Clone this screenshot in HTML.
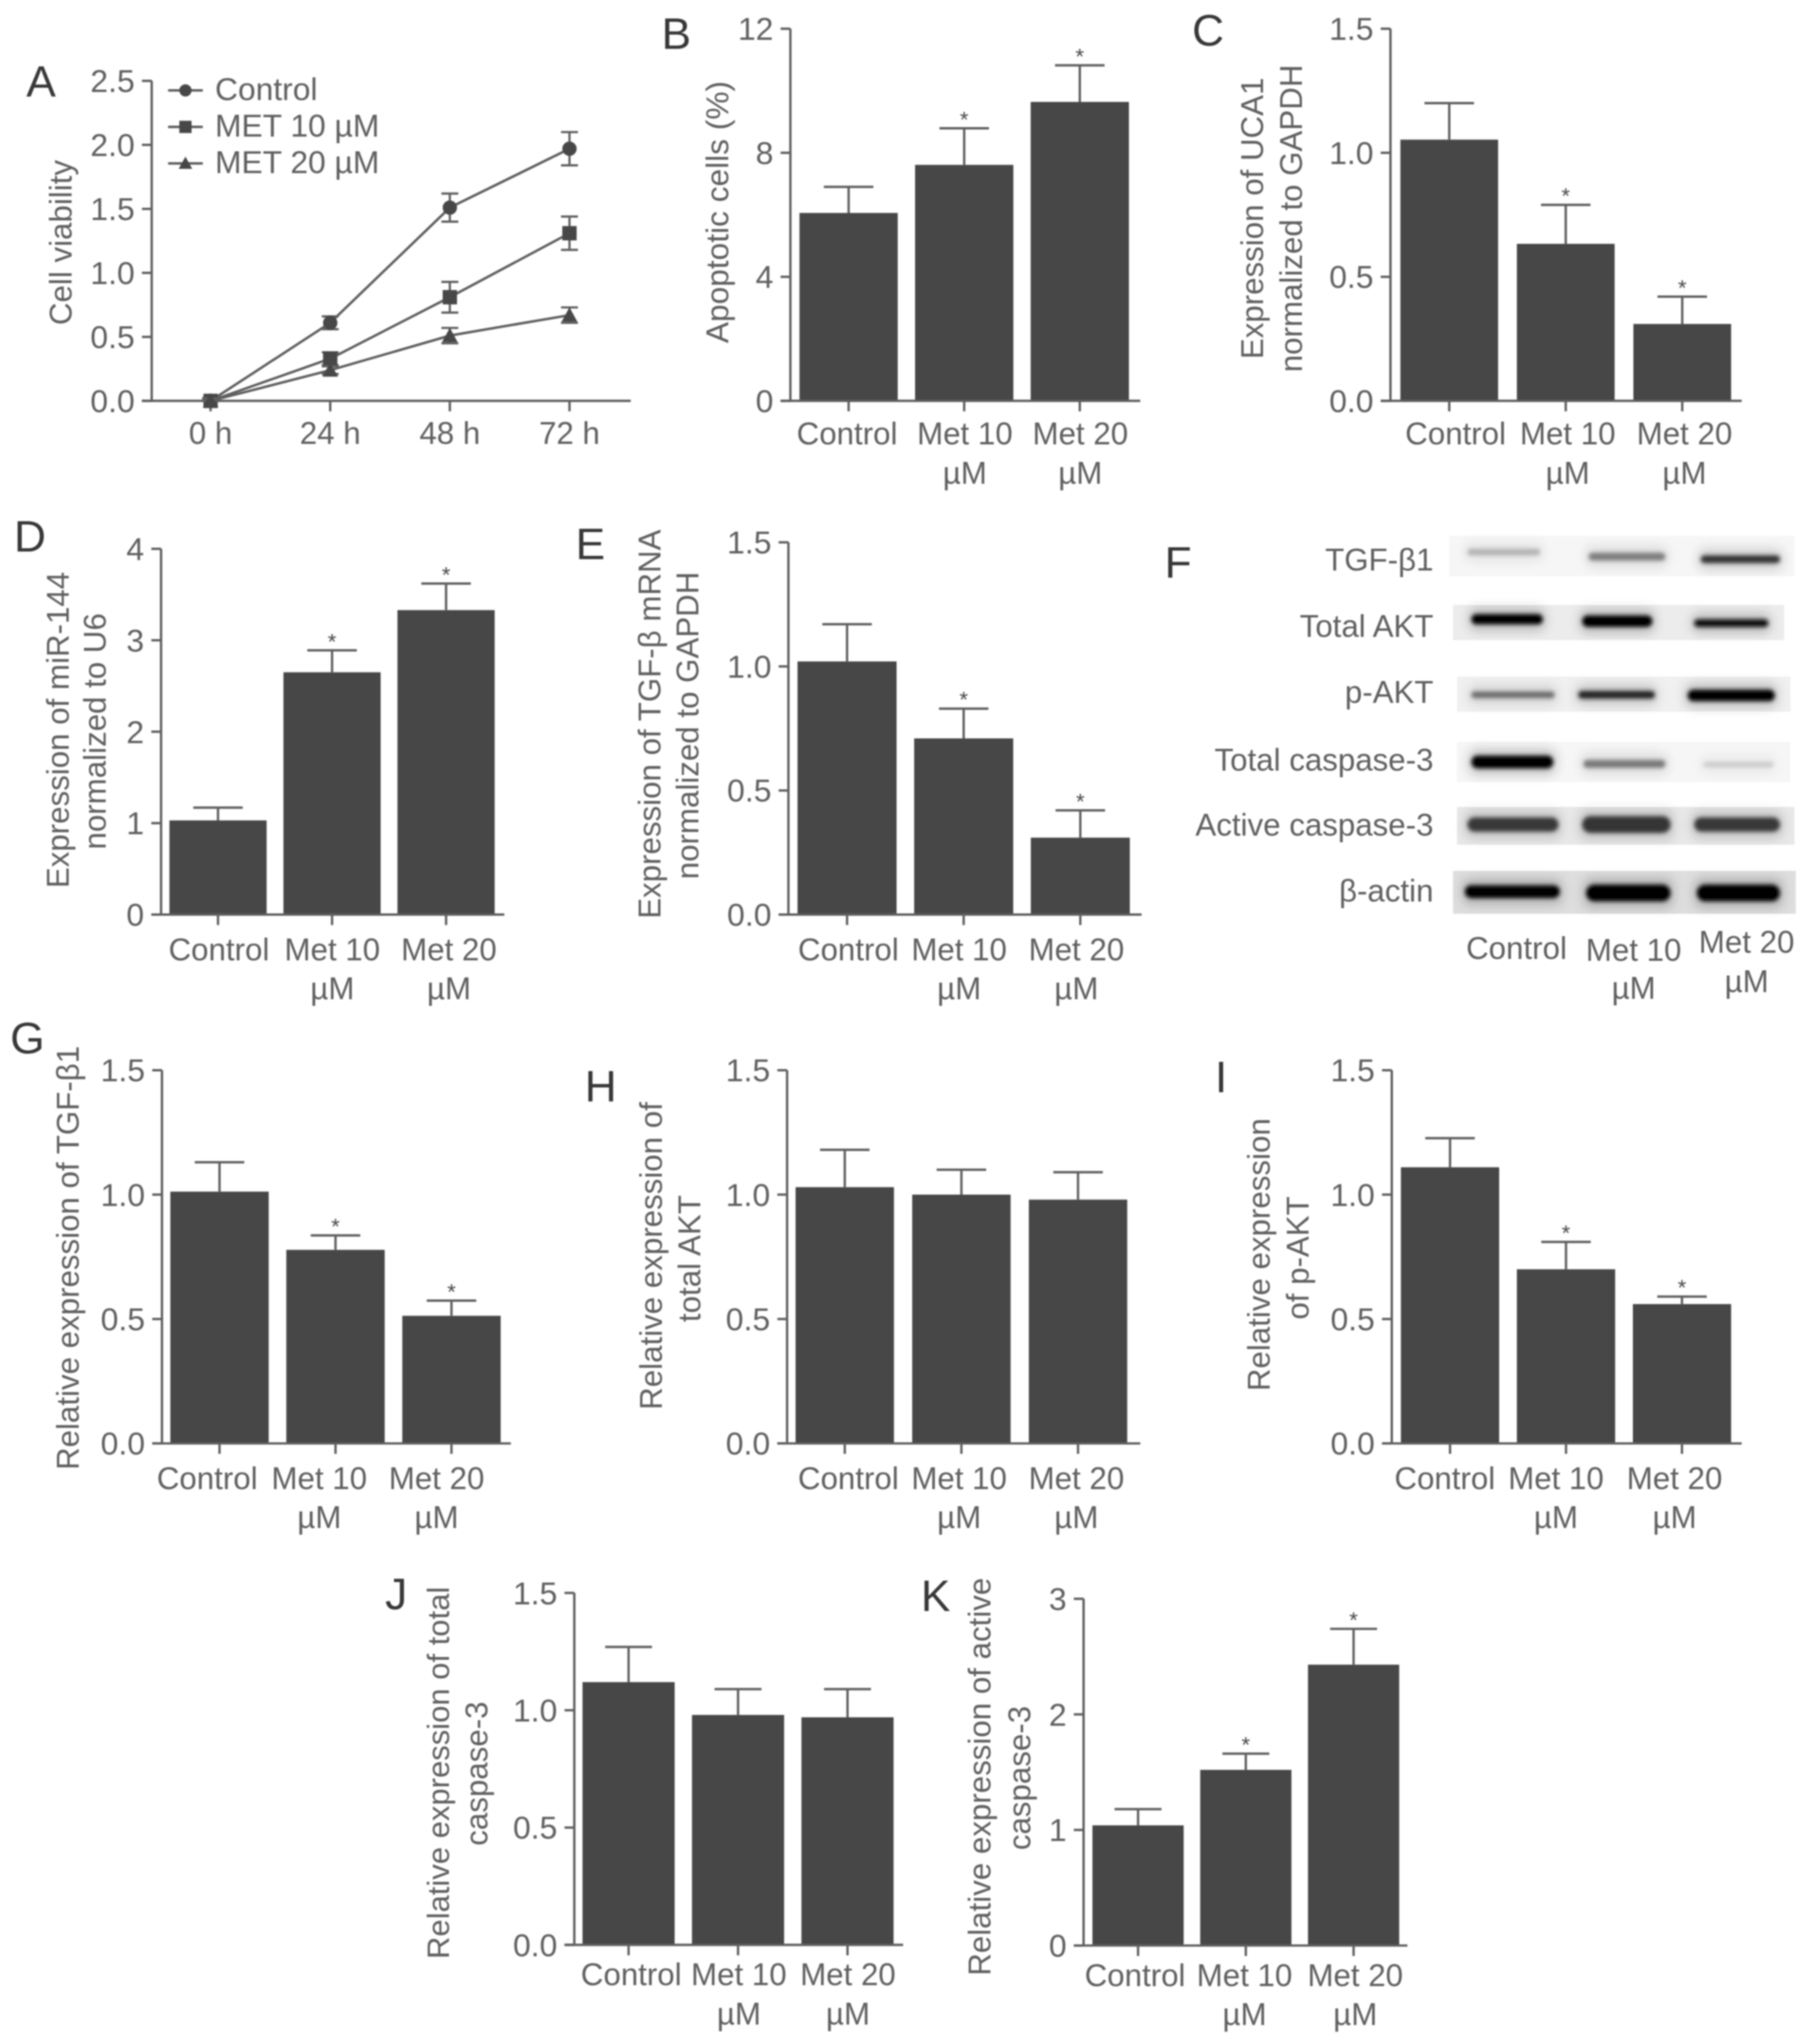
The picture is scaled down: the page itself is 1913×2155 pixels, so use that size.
<!DOCTYPE html>
<html lang="en">
<head>
<meta charset="utf-8">
<title>Metformin panels</title>
<style>
html,body{margin:0;padding:0;background:#fff;width:1913px;height:2155px;overflow:hidden}
svg{display:block}
text{font-family:"Liberation Sans",sans-serif;fill:#606060}
</style>
</head>
<body>
<svg id="fig" xmlns="http://www.w3.org/2000/svg" width="1913" height="2155" viewBox="0 0 1392 1568">
<defs>
<filter id="soft" x="-2%" y="-2%" width="104%" height="104%"><feGaussianBlur stdDeviation="0.55"/></filter>
<filter id="coreBlur" x="-20%" y="-150%" width="140%" height="400%"><feGaussianBlur stdDeviation="1.5"/></filter>
<filter id="haloBlur" x="-30%" y="-200%" width="160%" height="500%"><feGaussianBlur stdDeviation="4"/></filter>
</defs>
<g id="root" filter="url(#soft)"></g>
</svg>
<script>
// ---- data ----
const timeLabels = ['0 h', '24 h', '48 h', '72 h'];
const viabilityTicks = ['0.0', '0.5', '1.0', '1.5', '2.0', '2.5'];
const controlViability = [0, 0.61, 1.51, 1.97];
const controlViabilityErr = [0.02, 0.05, 0.11, 0.13];
const met10Viability = [0, 0.33, 0.81, 1.31];
const met10ViabilityErr = [0.02, 0.05, 0.12, 0.13];
const met20Viability = [0, 0.24, 0.51, 0.67];
const met20ViabilityErr = [0.02, 0.03, 0.06, 0.06];

const barCategories = ['Control', 'Met 10 µM', 'Met 20 µM'];
const ticks15 = ['0.0', '0.5', '1.0', '1.5'];
const ticksB = ['0', '4', '8', '12'];
const ticksD = ['0', '1', '2', '3', '4'];
const ticksK = ['0', '1', '2', '3'];

const valuesB = [6.06, 7.61, 9.64];
const errorTopsB = [6.9, 8.79, 10.82];
const starsB = [false, true, true];
const valuesC = [1.053, 0.633, 0.31];
const errorTopsC = [1.2, 0.79, 0.42];
const starsC = [false, true, true];
const valuesD = [1.03, 2.65, 3.33];
const errorTopsD = [1.17, 2.89, 3.62];
const starsD = [false, true, true];
const valuesE = [1.02, 0.71, 0.31];
const errorTopsE = [1.17, 0.83, 0.42];
const starsE = [false, true, true];
const valuesG = [1.012, 0.778, 0.513];
const errorTopsG = [1.13, 0.836, 0.574];
const starsG = [false, true, true];
const valuesH = [1.03, 1.0, 0.98];
const errorTopsH = [1.18, 1.1, 1.09];
const starsH = [false, false, false];
const valuesI = [1.11, 0.7, 0.56];
const errorTopsI = [1.227, 0.81, 0.59];
const starsI = [false, true, true];
const valuesJ = [1.12, 0.98, 0.97];
const errorTopsJ = [1.27, 1.09, 1.09];
const starsJ = [false, false, false];
const valuesK = [1.04, 1.52, 2.43];
const errorTopsK = [1.18, 1.66, 2.74];
const starsK = [false, true, true];

const blotRows = ['TGF-β1', 'Total AKT', 'p-AKT', 'Total caspase-3', 'Active caspase-3', 'β-actin'];
const blotControl = [0.25, 1.0, 0.55, 1.0, 0.76, 1.0];
const blotMet10 = [0.48, 1.0, 0.85, 0.5, 0.78, 1.0];
const blotMet20 = [0.8, 0.95, 1.0, 0.15, 0.76, 1.0];

// ---- helpers ----
const NS = 'http://www.w3.org/2000/svg';
const root = document.getElementById('root');
function make(tag, attrs, parent, txt) {
  const el = document.createElementNS(NS, tag);
  for (const k in attrs) el.setAttribute(k, attrs[k]);
  if (txt !== undefined) el.textContent = txt;
  (parent || root).appendChild(el);
  return el;
}
const AXIS = '#5e5e5e';
const BAR = '#464646';
const SW = 1.8;

function panelLetter(letter, x, y) {
  const t = make('text', {x: x, y: y, 'text-anchor': 'middle', 'font-size': 34, style: 'fill:#383838'}, root, letter);
  
  
}
function yTitle(parent, lines) {
  lines.forEach(function (ln) {
    const t = make('text', {
      transform: 'translate(' + ln.x + ',' + ln.y + ') rotate(-90)',
      'text-anchor': 'middle', 'font-size': ln.size || 24
    }, parent, ln.text);
    
    
  });
}
function yAxis(parent, cfg, ticks) {
  const top = make('line', {x1: cfg.axisX, x2: cfg.axisX, y1: cfg.yTop, y2: cfg.y0, stroke: AXIS, 'stroke-width': SW}, parent);
  
  
  const maxV = parseFloat(ticks[ticks.length - 1]);
  ticks.forEach(function (lab) {
    const y = cfg.y0 - parseFloat(lab) / maxV * (cfg.y0 - cfg.yTop);
    const tk = make('line', {x1: cfg.axisX - 7.5, x2: cfg.axisX, y1: y, y2: y, stroke: AXIS, 'stroke-width': SW}, parent);
    
    
    const t = make('text', {x: cfg.axisX - 13, y: y + 8.6, 'text-anchor': 'end', 'font-size': 24.5}, parent, lab);
    
    
  });
}
function xLabel(parent, cx, y, lab, lineGap) {
  const m = lab.match(/^(.*) (µM)$/);
  const first = m ? m[1] : lab;
  const t = make('text', {x: cx, y: y, 'text-anchor': 'middle', 'font-size': 24}, parent, first);
  
  
  if (m) {
    const u = make('text', {x: cx, y: y + lineGap, 'text-anchor': 'middle', 'font-size': 24}, parent, m[2]);
    
    
  }
}
function barPanel(cfg, ticks, categories, values, errorTops, stars, titles) {
  const g = make('g', {});
  
  
  const maxV = parseFloat(ticks[ticks.length - 1]);
  const yScale = function (v) { return cfg.y0 - v / maxV * (cfg.y0 - cfg.yTop); };
  const xScale = function (i) { return cfg.barX + i * cfg.step; };
  values.forEach(function (v, i) {
    const x = xScale(i), cx = x + cfg.barW / 2;
    const bar = make('rect', {x: x, y: yScale(v), width: cfg.barW, height: cfg.y0 - yScale(v), fill: BAR}, g);
    
    
    const stem = make('line', {x1: cx, x2: cx, y1: yScale(v), y2: yScale(errorTops[i]), stroke: AXIS, 'stroke-width': SW}, g);
    
    
    const hw = cfg.capHalf || 19;
    const cap = make('line', {x1: cx - hw, x2: cx + hw, y1: yScale(errorTops[i]), y2: yScale(errorTops[i]), stroke: AXIS, 'stroke-width': SW}, g);
    
    
    if (stars[i]) {
      const s = make('text', {x: cx, y: yScale(errorTops[i]) - 1, 'text-anchor': 'middle', 'font-size': 17, style: 'fill:#484848'}, g, '*');
      
      
    }
    const tk = make('line', {x1: cx, x2: cx, y1: cfg.y0, y2: cfg.y0 + 8, stroke: AXIS, 'stroke-width': SW}, g);
    
    
    xLabel(g, cfg.labelX[i], cfg.y0 + cfg.labelDy, categories[i], 30);
  });
  yAxis(g, cfg, ticks);
  const xa = make('line', {x1: cfg.axisX - 7.5, x2: cfg.xEnd, y1: cfg.y0, y2: cfg.y0, stroke: AXIS, 'stroke-width': SW}, g);
  
  
  yTitle(g, titles);
}

function marker(parent, kind, x, y, r) {
  let m;
  if (kind === 'circle') m = make('circle', {cx: x, cy: y, r: r, fill: BAR}, parent);
  else if (kind === 'square') m = make('rect', {x: x - r, y: y - r, width: 2 * r, height: 2 * r, fill: BAR}, parent);
  else m = make('polygon', {points: (x - r - 1) + ',' + (y + r) + ' ' + (x + r + 1) + ',' + (y + r) + ' ' + x + ',' + (y - r - 1), fill: BAR}, parent);
  
  
}

function linePanel() {
  const cfg = {axisX: 116.4, yTop: 62, y0: 307.5, firstX: 161.6, step: 91.8, xEnd: 484};
  const g = make('g', {});
  
  
  const maxV = parseFloat(viabilityTicks[viabilityTicks.length - 1]);
  const yScale = function (v) { return cfg.y0 - v / maxV * (cfg.y0 - cfg.yTop); };
  const xScale = function (i) { return cfg.firstX + i * cfg.step; };
  yAxis(g, cfg, viabilityTicks);
  const xa = make('line', {x1: cfg.axisX - 7.5, x2: cfg.xEnd, y1: cfg.y0, y2: cfg.y0, stroke: AXIS, 'stroke-width': SW}, g);
  
  
  timeLabels.forEach(function (lab, i) {
    const tk = make('line', {x1: xScale(i), x2: xScale(i), y1: cfg.y0, y2: cfg.y0 + 8, stroke: AXIS, 'stroke-width': SW}, g);
    
    
    xLabel(g, xScale(i), cfg.y0 + 33, lab, 30);
  });
  const series = [
    {kind: 'circle', vals: controlViability, errs: controlViabilityErr, r: 5.5, label: 'Control'},
    {kind: 'square', vals: met10Viability, errs: met10ViabilityErr, r: 5.5, label: 'MET 10 µM'},
    {kind: 'triangle', vals: met20Viability, errs: met20ViabilityErr, r: 5, label: 'MET 20 µM'}
  ];
  series.forEach(function (s, si) {
    const pts = s.vals.map(function (v, i) { return xScale(i) + ',' + yScale(v); }).join(' ');
    const pl = make('polyline', {points: pts, fill: 'none', stroke: AXIS, 'stroke-width': 1.9}, g);
    
    
    s.vals.forEach(function (v, i) {
      const x = xScale(i);
      const hi = yScale(v + s.errs[i]), lo = yScale(Math.max(0, v - s.errs[i]));
      const eb = make('path', {d: 'M' + x + ' ' + hi + 'V' + lo + 'M' + (x - 6.5) + ' ' + hi + 'H' + (x + 6.5) + 'M' + (x - 6.5) + ' ' + lo + 'H' + (x + 6.5), fill: 'none', stroke: AXIS, 'stroke-width': 1.7}, g);
      
      
      marker(g, s.kind, x, yScale(v), s.r);
    });
    // legend
    const ly = 69.3 + si * 28;
    const entry = make('g', {}, g);
    
    
    const ll = make('line', {x1: 129, x2: 155.6, y1: ly, y2: ly, stroke: AXIS, 'stroke-width': 1.9}, entry);
    
    
    marker(entry, s.kind, 142.3, ly, s.r - 0.8);
    const lt = make('text', {x: 165, y: ly + 7.5, 'font-size': 24.4}, entry, s.label);
    
    
  });
  yTitle(g, [{text: 'Cell viability', x: 55, y: 186, size: 24}]);
}

function blotPanel() {
  const g = make('g', {});
  
  
  const rowLayout = [
    {bx: 1112, bw: 265, by: 411, bh: 31, bg: '#f6f6f6', base: 437.5,
     lanes: [[1126, 56, 423.5, 5], [1219, 59, 427, 6], [1305, 61, 429, 6]]},
    {bx: 1115, bw: 254, by: 464, bh: 27, bg: '#ececec', base: 488.5,
     lanes: [[1129, 55, 475, 8], [1214, 54, 476.5, 9], [1300, 57, 478, 6]]},
    {bx: 1118, bw: 256, by: 519, bh: 27, bg: '#f0f0f0', base: 539,
     lanes: [[1129, 64, 533, 5], [1211, 59, 533, 6], [1295, 67, 533.5, 9]]},
    {bx: 1118, bw: 256, by: 569, bh: 31, bg: '#f6f6f6', base: 591,
     lanes: [[1129, 63, 584.5, 10], [1215, 63, 586, 6], [1307, 54, 586.5, 4]]},
    {bx: 1118, bw: 259, by: 619, bh: 29, bg: '#e8e8e8', base: 641,
     lanes: [[1126, 70, 632.5, 11], [1214, 68, 632.5, 13], [1300, 66, 632.5, 11]]},
    {bx: 1115, bw: 263, by: 668, bh: 33, bg: '#dedede', base: 691.5,
     lanes: [[1124, 73, 684, 10], [1217, 65, 685, 13], [1302, 64, 685, 13]]}
  ];
  blotRows.forEach(function (row, r) {
    const L = rowLayout[r];
    const bg = make('rect', {x: L.bx, y: L.by, width: L.bw, height: L.bh, fill: L.bg}, g);
    
    
    [blotControl[r], blotMet10[r], blotMet20[r]].forEach(function (v, c) {
      const ln = L.lanes[c];
      const shade = Math.round(238 - v * 238);
      const halo = make('rect', {x: ln[0] - 2, y: ln[2] - ln[3] / 2 - 5, width: ln[1] + 4, height: ln[3] + 10, rx: 6, fill: '#000', 'fill-opacity': 0.18 * v + 0.02, filter: 'url(#haloBlur)'}, g);
      
      
      const band = make('rect', {x: ln[0], y: ln[2] - ln[3] / 2, width: ln[1], height: ln[3], rx: ln[3] / 2, fill: 'rgb(' + shade + ',' + shade + ',' + shade + ')', filter: 'url(#coreBlur)'}, g);
      
      
    });
    const t = make('text', {x: 1100, y: L.base, 'text-anchor': 'end', 'font-size': 24}, g, row);
    
    
  });
  xLabel(g, 1163.7, 735.6, barCategories[0], 30);
  xLabel(g, 1253.6, 737, barCategories[1], 29);
  xLabel(g, 1340.3, 731, barCategories[2], 30);
}

// ---- draw ----
linePanel();
barPanel({name: 'panel-b-apoptotic-cells', axisX: 606.5, yTop: 22, y0: 307.5, barX: 613.5, step: 88.7, barW: 75.4, xEnd: 875, labelDy: 33.5, labelX: [650, 740.4, 829]},
  ticksB, barCategories, valuesB, errorTopsB, starsB,
  [{text: 'Apoptotic cells (%)', x: 558.7, y: 162.6, size: 24.3}]);
barPanel({name: 'panel-c-uca1', axisX: 1067, yTop: 22, y0: 307.5, barX: 1074.6, step: 89.4, barW: 75, xEnd: 1336.5, labelDy: 33.5, labelX: [1117, 1203, 1292.6]},
  ticks15, barCategories, valuesC, errorTopsC, starsC,
  [{text: 'Expression of UCA1', x: 969.3, y: 167.5}, {text: 'normalized to GAPDH', x: 999, y: 167.5}]);
barPanel({name: 'panel-d-mir-144', axisX: 123.6, yTop: 421, y0: 701.6, barX: 130, step: 87.5, barW: 74.6, xEnd: 387, labelDy: 35, labelX: [168, 255, 344.5]},
  ticksD, barCategories, valuesD, errorTopsD, starsD,
  [{text: 'Expression of miR-144', x: 52.7, y: 560}, {text: 'normalized to U6', x: 81, y: 561}]);
barPanel({name: 'panel-e-tgf-beta-mrna', axisX: 605, yTop: 416, y0: 701.6, barX: 612, step: 89.5, barW: 76, xEnd: 876, labelDy: 35, labelX: [651, 736, 826]},
  ticks15, barCategories, valuesE, errorTopsE, starsE,
  [{text: 'Expression of TGF-β mRNA', x: 506.7, y: 555.5}, {text: 'normalized to GAPDH', x: 536, y: 556.5}]);
blotPanel();
barPanel({name: 'panel-g-tgf-beta1', axisX: 124.3, yTop: 821, y0: 1107.3, barX: 130.7, step: 89, barW: 75.5, xEnd: 392, labelDy: 35, labelX: [159, 245, 335]},
  ticks15, barCategories, valuesG, errorTopsG, starsG,
  [{text: 'Relative expression of TGF-β1', x: 60.5, y: 965}]);
barPanel({name: 'panel-h-total-akt', axisX: 604, yTop: 821, y0: 1107.3, barX: 610.5, step: 89.5, barW: 75.5, xEnd: 875, labelDy: 35, labelX: [651, 736, 826]},
  ticks15, barCategories, valuesH, errorTopsH, starsH,
  [{text: 'Relative expression of', x: 508, y: 963.5}, {text: 'total AKT', x: 537.5, y: 965.5}]);
barPanel({name: 'panel-i-p-akt', axisX: 1068, yTop: 821, y0: 1107.3, barX: 1075, step: 89, barW: 75.4, xEnd: 1336.5, labelDy: 35, labelX: [1108.7, 1194, 1285]},
  ticks15, barCategories, valuesI, errorTopsI, starsI,
  [{text: 'Relative expression', x: 974.5, y: 962.5}, {text: 'of p-AKT', x: 1004, y: 965}]);
barPanel({name: 'panel-j-total-caspase-3', axisX: 440.7, yTop: 1222, y0: 1492, barX: 447, step: 84, barW: 70.7, xEnd: 693, capHalf: 18, labelDy: 31, labelX: [484.4, 567, 650.7]},
  ticks15, barCategories, valuesJ, errorTopsJ, starsJ,
  [{text: 'Relative expression of total', x: 344.7, y: 1360, size: 23.8}, {text: 'caspase-3', x: 374, y: 1360.6}]);
barPanel({name: 'panel-k-active-caspase-3', axisX: 831.5, yTop: 1226.5, y0: 1492.5, barX: 838.3, step: 82.7, barW: 70, xEnd: 1080, capHalf: 18, labelDy: 31, labelX: [871, 955, 1040]},
  ticksK, barCategories, valuesK, errorTopsK, starsK,
  [{text: 'Relative expression of active', x: 760, y: 1363, size: 24}, {text: 'caspase-3', x: 790.7, y: 1364}]);

[['A', 31.5, 74], ['B', 519, 37.6], ['C', 927, 35], ['D', 23, 423], ['E', 453, 429], ['F', 904, 443],
 ['G', 21, 808], ['H', 461, 845], ['I', 937, 838], ['J', 304, 1234.5], ['K', 718, 1236]].forEach(function (p) {
  panelLetter(p[0], p[1], p[2]);
});
</script>
</body>
</html>
